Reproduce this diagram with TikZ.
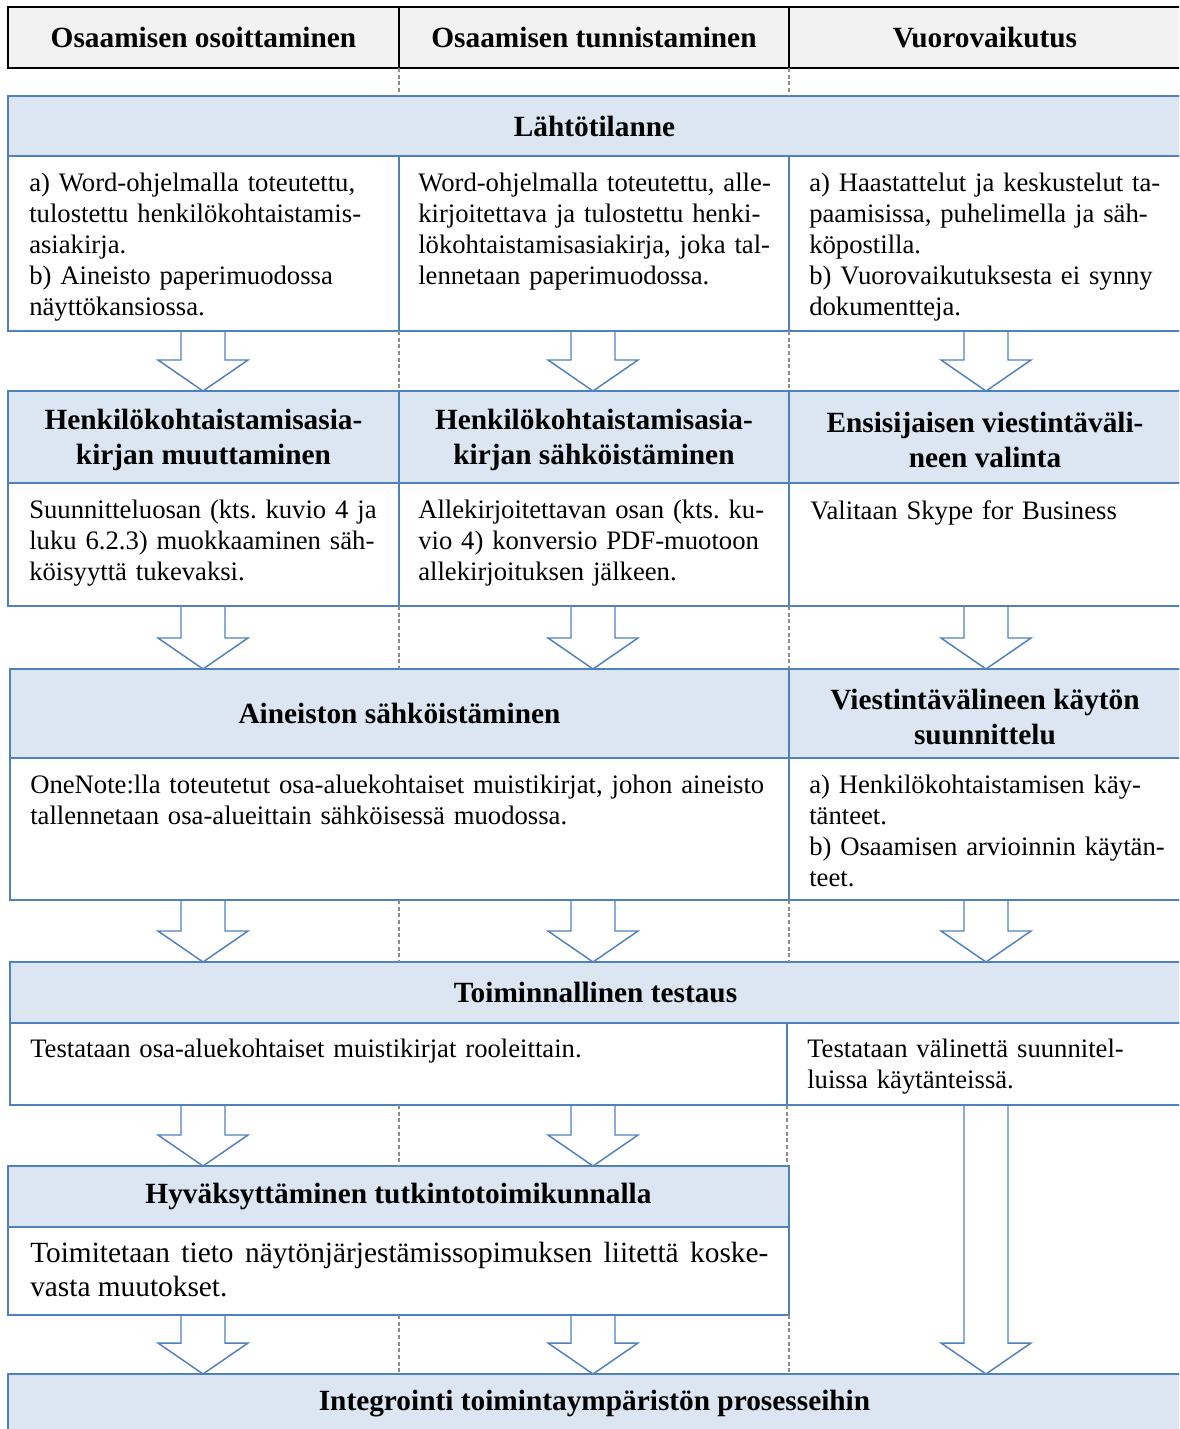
\documentclass[tikz,border=0pt]{standalone}
\usepackage{fontspec}
\setmainfont{Liberation Serif}
\usetikzlibrary{calc}

\definecolor{frameblue}{HTML}{4F81BD}
\definecolor{titlefill}{HTML}{DCE6F2}
\definecolor{headfill}{HTML}{F2F2F2}
\definecolor{guidegray}{HTML}{8C8C8C}

\tikzset{
  cellbase/.style={anchor=north west, inner sep=0pt, outer sep=0pt, align=center,
    font=\fontsize{22}{26.25}\selectfont\bfseries},
  headcell/.style={cellbase, draw=black, line width=1.5pt, fill=headfill},
  titlecell/.style={cellbase, draw=frameblue, line width=1.2pt, fill=titlefill},
  bodycell/.style={cellbase, draw=frameblue, line width=1.2pt, fill=white},
  bodytext/.style={anchor=north west, inner sep=0pt, align=left, text width=300pt,
    font=\fontsize{20}{23.25}\selectfont\frenchspacing},
  guide/.style={draw=guidegray, line width=0.8pt, dash pattern=on 3pt off 2pt},
  fatarrow/.style={draw=frameblue, line width=1.1pt, line join=miter},
}

% cell: style, name, x1, y1, x2, y2 (pixel grid), text
\newcommand\cell[7]{\node[#1, minimum width={(#5-#3)*0.75pt},
  minimum height={(#6-#4)*0.75pt}] (#2) at (#3,#4) {#7};}

% hollow block arrow in column #1 from node #2 down to node #3
\newcommand\fatdown[3]{\draw[fatarrow] let \p1=(#2.south -| #1), \p2=(#3.north -| #1) in
  (\x1-16.5pt,\y1) -- (\x1-16.5pt,\y2+23.25pt) -- (\x1-33.75pt,\y2+23.25pt)
  -- (\x1,\y2) -- (\x1+33.75pt,\y2+23.25pt) -- (\x1+16.5pt,\y2+23.25pt)
  -- (\x1+16.5pt,\y1);}

\begin{document}
\begin{tikzpicture}[x=0.75pt, y=-0.75pt]
\useasboundingbox (0,0) rectangle (1179,1429);
\clip (0,0) rectangle (1179,1429);

% column axes
\coordinate (k1) at (203,0);
\coordinate (k2) at (593,0);
\coordinate (k3) at (986,0);

% column headers
\cell{headcell}{h1}{8}{7}{399}{68}{Osaamisen osoittaminen}
\cell{headcell}{h2}{399}{7}{789}{68}{Osaamisen tunnistaminen}
\cell{headcell}{h3}{789}{7}{1181}{68}{Vuorovaikutus}

% stage 1 (title cells are drawn a little taller; the body row below covers the overlap)
\cell{titlecell}{t1}{8}{96}{1181}{156}{Lähtötilanne}
\cell{bodycell}{c1a}{8}{156}{399}{331}{}
\cell{bodycell}{c1b}{399}{156}{789}{331}{}
\cell{bodycell}{c1c}{789}{156}{1181}{331}{}

% stage 2
\cell{titlecell}{t2a}{8}{391}{399}{489}{Henkilökohtaistamisasia-\\kirjan muuttaminen}
\cell{titlecell}{t2b}{399}{391}{789}{489}{Henkilökohtaistamisasia-\\kirjan sähköistäminen}
\cell{titlecell}{t2c}{789}{391}{1181}{489}{Ensisijaisen viestintäväli-\\neen valinta}
\cell{bodycell}{c2a}{8}{483}{399}{606}{}
\cell{bodycell}{c2b}{399}{483}{789}{606}{}
\cell{bodycell}{c2c}{789}{483}{1181}{606}{}

% stage 3
\cell{titlecell}{t3a}{10}{669}{789}{758}{Aineiston sähköistäminen}
\cell{titlecell}{t3c}{789}{669}{1181}{764}{Viestintävälineen käytön\\suunnittelu}
\cell{bodycell}{c3a}{10}{758}{789}{900}{}
\cell{bodycell}{c3c}{789}{758}{1181}{900}{}

% stage 4
\cell{titlecell}{t4}{10}{962}{1181}{1023}{Toiminnallinen testaus}
\cell{bodycell}{c4a}{10}{1023}{787}{1105}{}
\cell{bodycell}{c4c}{787}{1023}{1181}{1105}{}

% stage 5
\cell{titlecell}{t5}{8}{1166}{789}{1227}{Hyväksyttäminen tutkintotoimikunnalla}
\cell{bodycell}{c5}{8}{1227}{789}{1315}{}

% stage 6
\cell{titlecell}{t6}{8}{1374}{1181}{1433}{Integrointi toimintaympäristön prosesseihin}

% column guides between the boxes
\draw[guide] (h1.south east) -- (h1.south east |- t1.north);
\draw[guide] (h2.south east) -- (h2.south east |- t1.north);
\draw[guide] (c1a.south east) -- (t2a.north east);
\draw[guide] (c1b.south east) -- (t2b.north east);
\draw[guide] (c2a.south east) -- (c2a.south east |- t3a.north);
\draw[guide] (c2b.south east) -- (t3a.north east);
\draw[guide] (c2a.east |- c3a.south) -- (c2a.east |- t4.north);
\draw[guide] (c3a.south east) -- (c3a.south east |- t4.north);
\draw[guide] (c2a.east |- c4a.south) -- (c2a.east |- t5.north);
\draw[guide] (c4a.south east) -- (c4a.south east |- t5.north);
\draw[guide] (c2a.east |- c5.south) -- (c2a.east |- t6.north);
\draw[guide] (c5.south east) -- (c5.south east |- t6.north);

% cell texts
\node[bodytext] (c1a-t) at ($(c1a.north west)+(21,17)$)
  {a) Word-ohjelmalla toteutettu,\\ tulostettu henkilökohtaistamis-\\ asiakirja.\\ b) Aineisto paperimuodossa\\ näyttökansiossa.};
\node[bodytext] (c1b-t) at ($(c1b.north west)+(19,17)$)
  {Word-ohjelmalla toteutettu, alle-\\ kirjoitettava ja tulostettu henki-\\ lökohtaistamisasiakirja, joka tal-\\ lennetaan paperimuodossa.};
\node[bodytext] (c1c-t) at ($(c1c.north west)+(20,17)$)
  {a) Haastattelut ja keskustelut ta-\\ paamisissa, puhelimella ja säh-\\ köpostilla.\\ b) Vuorovaikutuksesta ei synny\\ dokumentteja.};
\node[bodytext] (c2a-t) at ($(c2a.north west)+(21,17)$)
  {Suunnitteluosan (kts. kuvio 4 ja\\ luku 6.2.3) muokkaaminen säh-\\ köisyyttä tukevaksi.};
\node[bodytext] (c2b-t) at ($(c2b.north west)+(19,17)$)
  {Allekirjoitettavan osan (kts. ku-\\ vio 4) konversio PDF-muotoon\\ allekirjoituksen jälkeen.};
\node[bodytext] (c2c-t) at ($(c2c.north west)+(21,17)$)
  {Valitaan Skype for Business};
\node[bodytext, text width=570pt] (c3a-t) at ($(c3a.north west)+(20,17)$)
  {OneNote:lla toteutetut osa-aluekohtaiset muistikirjat, johon aineisto\\ tallennetaan osa-alueittain sähköisessä muodossa.};
\node[bodytext] (c3c-t) at ($(c3c.north west)+(20,17)$)
  {a) Henkilökohtaistamisen käy-\\ tänteet.\\ b) Osaamisen arvioinnin käytän-\\ teet.};
\node[bodytext, text width=570pt] (c4a-t) at ($(c4a.north west)+(20,16)$)
  {Testataan osa-aluekohtaiset muistikirjat rooleittain.};
\node[bodytext] (c4c-t) at ($(c4c.north west)+(20,16)$)
  {Testataan välinettä suunnitel-\\ luissa käytänteissä.};
\node[bodytext, align=justify, text width=553.5pt,
  font=\fontsize{22}{25.5}\selectfont\frenchspacing] (c5-t) at ($(c5.north west)+(22,15)$)
  {Toimitetaan tieto näytönjärjestämissopimuksen liitettä koske-\linebreak vasta muutokset.};

% flow arrows
\fatdown{k1}{c1a}{t2a}
\fatdown{k2}{c1b}{t2b}
\fatdown{k3}{c1c}{t2c}
\fatdown{k1}{c2a}{t3a}
\fatdown{k2}{c2b}{t3a}
\fatdown{k3}{c2c}{t3c}
\fatdown{k1}{c3a}{t4}
\fatdown{k2}{c3a}{t4}
\fatdown{k3}{c3c}{t4}
\fatdown{k1}{c4a}{t5}
\fatdown{k2}{c4a}{t5}
\fatdown{k3}{c4c}{t6}
\fatdown{k1}{c5}{t6}
\fatdown{k2}{c5}{t6}
\end{tikzpicture}
\end{document}
